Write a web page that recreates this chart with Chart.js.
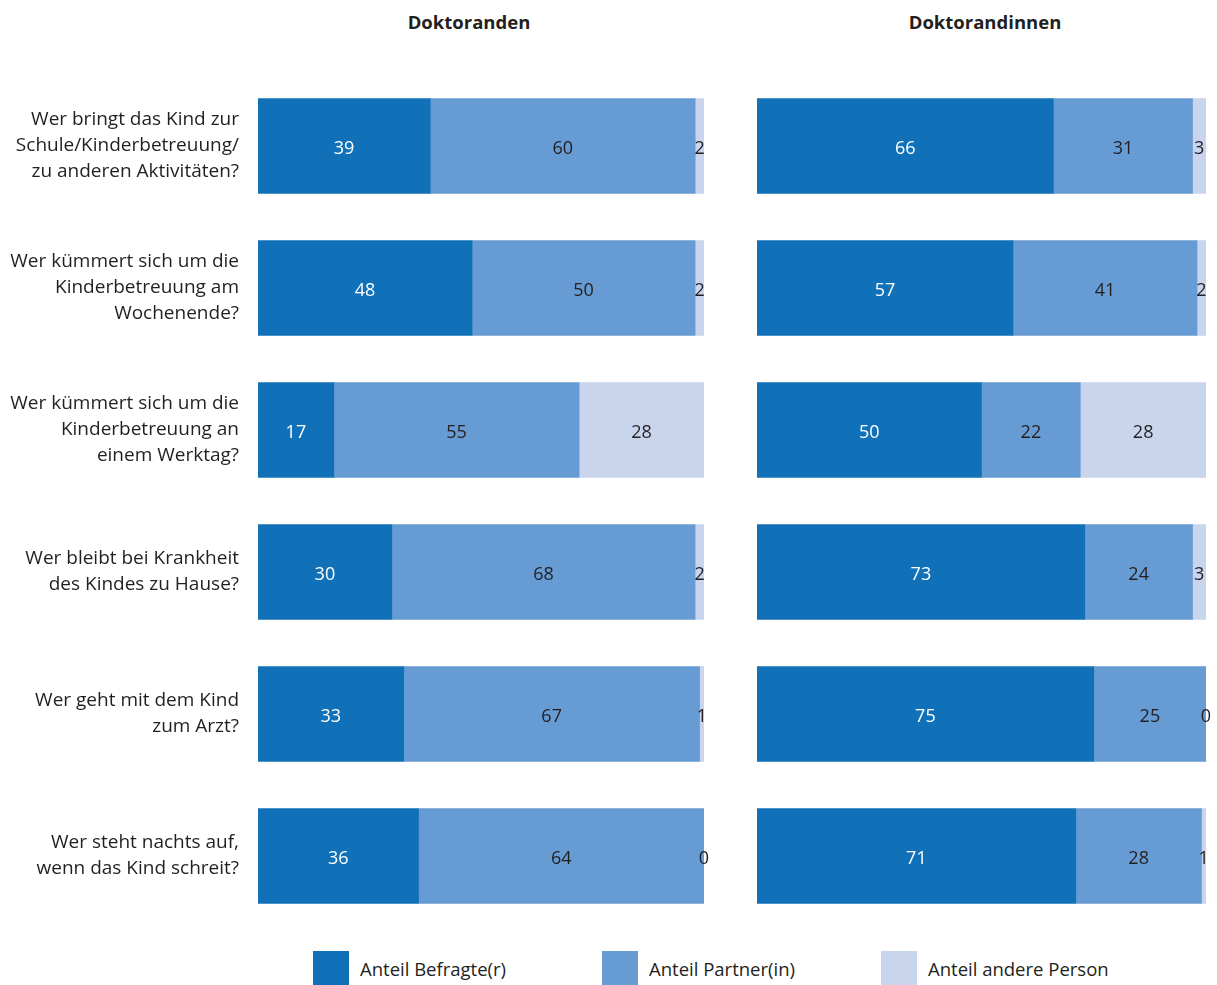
<!DOCTYPE html>
<html>
<head>
<meta charset="utf-8">
<script src="https://cdn.jsdelivr.net/npm/chart.js@4"></script>
<style>
  body { margin: 0; background: #fff; font-family: "Open Sans", sans-serif; color: #231f20; }
  #wrap { position: relative; width: 1217px; height: 985px; overflow: hidden; }
  .title { position: absolute; top: 9px; font-weight: bold; font-size: 18.5px; text-align: center; width: 300px; }
  #leftBox { position: absolute; left: 0; top: 75px; width: 720px; height: 852px; }
  #rightBox { position: absolute; left: 757px; top: 75px; width: 460px; height: 852px; }
  #legend { position: absolute; top: 951px; left: 0; width: 1217px; height: 34px; }
  .item { position: absolute; top: 0; height: 34px; display: flex; align-items: center; font-size: 18.5px; }
  .swatch { width: 36px; height: 34px; margin-right: 11px; }
</style>
</head>
<body>
<div id="wrap">
  <div class="title" style="left:319px">Doktoranden</div>
  <div class="title" style="left:835px">Doktorandinnen</div>
  <div id="leftBox"><canvas id="leftChart"></canvas></div>
  <div id="rightBox"><canvas id="rightChart"></canvas></div>
  <div id="legend"></div>
</div>
<script>
// ---------------- Daten ----------------
const categories = [
  ["Wer bringt das Kind zur", "Schule/Kinderbetreuung/", "zu anderen Aktivitäten?"],
  ["Wer kümmert sich um die", "Kinderbetreuung am", "Wochenende?"],
  ["Wer kümmert sich um die", "Kinderbetreuung an", "einem Werktag?"],
  ["Wer bleibt bei Krankheit", "des Kindes zu Hause?"],
  ["Wer geht mit dem Kind", "zum Arzt?"],
  ["Wer steht nachts auf,", "wenn das Kind schreit?"]
];
const seriesNames = ["Anteil Befragte(r)", "Anteil Partner(in)", "Anteil andere Person"];
const seriesColors = ["#1071b9", "#679bd3", "#c9d5ec"];
const labelColors = ["#ffffff", "#231f20", "#231f20"];

// Doktoranden
const menBefragte = [39, 48, 17, 30, 33, 36];
const menPartner  = [60, 50, 55, 68, 67, 64];
const menAndere   = [2, 2, 28, 2, 1, 0];
// Doktorandinnen
const womenBefragte = [66, 57, 50, 73, 75, 71];
const womenPartner  = [31, 41, 22, 24, 25, 28];
const womenAndere   = [3, 2, 28, 3, 0, 1];

const FONT = "'Open Sans', sans-serif";

// Balken werden auf 100 % der Zeilensumme skaliert, Beschriftung zeigt die Originalwerte
function buildDatasets(series) {
  const totals = categories.map((c, i) => series.reduce((s, arr) => s + arr[i], 0));
  return series.map((arr, k) => ({
    label: seriesNames[k],
    data: arr.map((v, i) => v / totals[i] * 100),
    raw: arr,
    backgroundColor: seriesColors[k],
    borderWidth: 0,
    barThickness: 95
  }));
}

// eigene Beschriftung der Segmente (kein datalabels-Plugin verfügbar)
const segmentLabels = {
  id: 'segmentLabels',
  afterDatasetsDraw(chart) {
    const ctx = chart.ctx;
    ctx.save();
    ctx.font = "18px " + FONT;
    ctx.textAlign = "center";
    ctx.textBaseline = "middle";
    chart.data.datasets.forEach((ds, k) => {
      chart.getDatasetMeta(k).data.forEach((bar, i) => {
        const x = (bar.x + bar.base) / 2;
        ctx.fillStyle = labelColors[k];
        ctx.fillText(String(ds.raw[i]), x, bar.y + 3);
      });
    });
    ctx.restore();
  }
};

function makeChart(id, series, showLabels) {
  return new Chart(document.getElementById(id), {
    type: 'bar',
    data: { labels: categories, datasets: buildDatasets(series) },
    options: {
      indexAxis: 'y',
      responsive: true,
      maintainAspectRatio: false,
      animation: false,
      layout: { padding: { left: 0, right: showLabels ? 16 : 11, top: 0, bottom: 0 } },
      plugins: { legend: { display: false }, tooltip: { enabled: false } },
      scales: {
        x: { stacked: true, min: 0, max: 100, display: false },
        y: {
          stacked: true,
          display: showLabels,
          grid: { display: false, drawTicks: false },
          border: { display: false },
          ticks: {
            color: "#231f20",
            padding: 19,
            font: { family: FONT, size: 19, lineHeight: 1.37 }
          },
          afterFit(scale) {
            if (showLabels) scale.width = 258;
            scale.paddingTop = 0;
            scale.paddingBottom = 0;
          }
        }
      }
    },
    plugins: [segmentLabels]
  });
}

makeChart('leftChart', [menBefragte, menPartner, menAndere], true);
makeChart('rightChart', [womenBefragte, womenPartner, womenAndere], false);

// Legende
const legendX = [313, 602, 881];
const legend = document.getElementById('legend');
seriesNames.forEach((name, k) => {
  const item = document.createElement('div');
  item.className = 'item';
  item.style.left = legendX[k] + 'px';
  item.innerHTML = `<div class="swatch" style="background:${seriesColors[k]}"></div><span>${name}</span>`;
  legend.appendChild(item);
});
</script>
</body>
</html>
